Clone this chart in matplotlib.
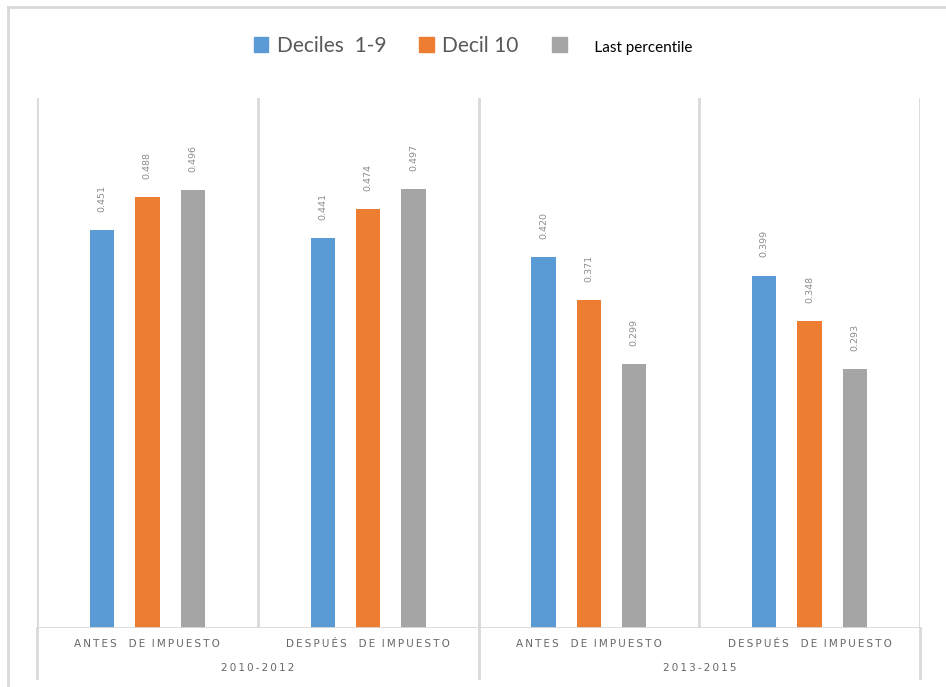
import matplotlib
matplotlib.use("Agg")
import matplotlib.pyplot as plt
from matplotlib.lines import Line2D
from matplotlib.patches import Patch
import numpy as np

plt.rcParams['font.family'] = ['Lato', 'DejaVu Sans']

# Data
categories = ["ANTES  DE IMPUESTO", "DESPUÉS  DE IMPUESTO",
              "ANTES  DE IMPUESTO", "DESPUÉS  DE IMPUESTO"]
periods = ["2010-2012", "2013-2015"]
series_names = ["Deciles  1-9", "Decil 10", "Last percentile"]
deciles_1_9 = [0.451, 0.441, 0.420, 0.399]
decil_10 = [0.488, 0.474, 0.371, 0.348]
last_percentile = [0.496, 0.497, 0.299, 0.293]

colors = ["#5B9BD5", "#ED7D31", "#A5A5A5"]
grid_c = "#D9D9D9"
label_c = "#8C8C8C"


def spaced(s):
    """Spread letters out to imitate wide character spacing."""
    return "\u2009".join(s).replace("\u2009 \u2009", "  ")


fig = plt.figure(figsize=(9.46, 6.87), dpi=100)
ax = fig.add_axes([37 / 946, 1 - 628 / 687, (920 - 37) / 946, (628 - 98) / 687])

x = np.arange(len(categories))
width = 0.11
step = 0.206
all_series = [deciles_1_9, decil_10, last_percentile]
for i, (vals, c) in enumerate(zip(all_series, colors)):
    pos = x + (i - 1) * step
    ax.bar(pos, vals, width=width, color=c, zorder=3)
    for px, v in zip(pos, vals):
        ax.annotate(f"{v:.3f}", (px, v), xytext=(0, 13), textcoords="offset points",
                    rotation=90, ha="center", va="bottom", fontsize=6.8,
                    color=label_c, family="DejaVu Sans")

ax.set_xlim(-0.5, len(categories) - 0.5)
ax.set_ylim(0, 0.6)
for s in ax.spines.values():
    s.set_visible(False)
ax.set_xticks([])
ax.set_yticks([])

# category separators inside the plot area
for b in np.arange(-0.5, len(categories), 1.0):
    ax.axvline(b, color=grid_c, lw=2, zorder=1)
ax.axhline(0, color=grid_c, lw=2, zorder=4)

# separators that continue under the axis between periods
trans = ax.get_xaxis_transform()
for b in [-0.5, 1.5, 3.5]:
    ax.add_line(Line2D([b, b], [0, -50 / 530], transform=trans, color=grid_c,
                       lw=2, clip_on=False))

# category and period labels
for xi, cat in zip(x, categories):
    ax.text(xi, -16 / 530, spaced(cat), transform=trans, ha="center", va="center",
            fontsize=7.5, color="#666666", family="DejaVu Sans")
for k, p in enumerate(periods):
    ax.text(2 * k + 0.5, -40 / 530, spaced(p), transform=trans, ha="center",
            va="center", fontsize=7.5, color="#666666", family="DejaVu Sans")

# legend
handles = [Patch(color=c) for c in colors]
leg = fig.legend(handles, series_names, loc="center", bbox_to_anchor=(0.5, 1 - 46 / 687),
                 ncol=3, frameon=False, handlelength=0.7, handleheight=0.7,
                 columnspacing=1.6, handletextpad=0.4, fontsize=15)
texts = leg.get_texts()
for t in texts[:2]:
    t.set_color("#595959")
texts[2].set_fontsize(11)
texts[2].set_color("black")
texts[2].set_text("     " + series_names[2])

# outer border
fig.add_artist(Line2D([8 / 946, 8 / 946], [0, 1 - 7 / 687], color=grid_c, lw=2,
                      transform=fig.transFigure))
fig.add_artist(Line2D([8 / 946, 1], [1 - 7 / 687, 1 - 7 / 687], color=grid_c, lw=2,
                      transform=fig.transFigure))

fig.savefig("out.png", dpi=100, facecolor="white")
